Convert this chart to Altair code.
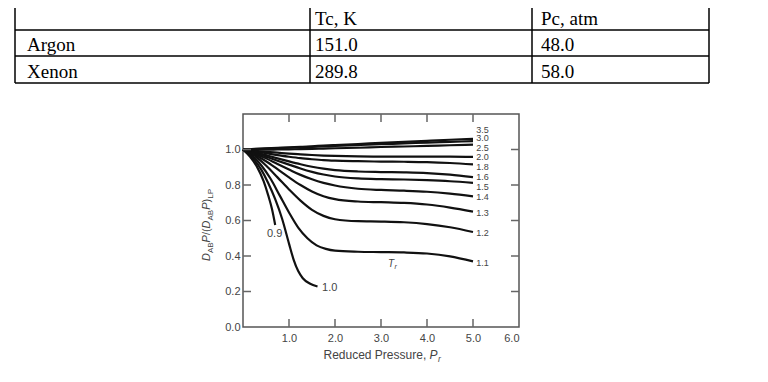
import altair as alt
import pandas as pd

# ---------------- data ----------------
table_header = ["", "Tc, K", "Pc, atm"]
table_gases = ["Argon", "Xenon"]
table_tc = ["151.0", "289.8"]
table_pc = ["48.0", "58.0"]

pr_std = [0, 0.25, 0.5, 0.75, 1.0, 1.25, 1.5, 1.75, 2.0, 2.5, 3.0, 3.5, 4.0, 4.5, 5.0]
curves_std = {
    "3.5": [1.0, 1.003, 1.006, 1.009, 1.012, 1.015, 1.018, 1.022, 1.025, 1.031, 1.037, 1.043, 1.049, 1.055, 1.060],
    "3.0": [1.0, 1.002, 1.005, 1.008, 1.010, 1.012, 1.015, 1.017, 1.020, 1.025, 1.030, 1.034, 1.039, 1.043, 1.047],
    "2.5": [1.0, 0.999, 0.999, 1.0, 1.001, 1.002, 1.003, 1.005, 1.007, 1.010, 1.014, 1.017, 1.020, 1.024, 1.027],
    "2.0": [1.0, 0.993, 0.987, 0.982, 0.977, 0.973, 0.969, 0.966, 0.964, 0.961, 0.960, 0.960, 0.960, 0.960, 0.958],
    "1.8": [1.0, 0.990, 0.979, 0.968, 0.959, 0.951, 0.945, 0.940, 0.937, 0.934, 0.932, 0.931, 0.929, 0.924, 0.916],
    "1.6": [1.0, 0.986, 0.968, 0.950, 0.933, 0.917, 0.903, 0.892, 0.884, 0.876, 0.873, 0.871, 0.867, 0.858, 0.844],
    "1.5": [1.0, 0.983, 0.960, 0.937, 0.915, 0.893, 0.874, 0.859, 0.848, 0.837, 0.833, 0.831, 0.827, 0.821, 0.812],
    "1.4": [1.0, 0.978, 0.950, 0.918, 0.887, 0.857, 0.832, 0.812, 0.797, 0.779, 0.772, 0.768, 0.762, 0.751, 0.736],
    "1.3": [1.0, 0.972, 0.934, 0.889, 0.843, 0.800, 0.764, 0.737, 0.720, 0.707, 0.703, 0.699, 0.690, 0.673, 0.650],
    "1.2": [1.0, 0.965, 0.910, 0.843, 0.775, 0.712, 0.660, 0.626, 0.607, 0.596, 0.594, 0.590, 0.580, 0.562, 0.535],
}
pr_11 = [0, 0.2, 0.4, 0.6, 0.8, 1.0, 1.2, 1.4, 1.6, 1.8, 2.0, 2.5, 3.0, 3.5, 4.0, 4.5, 5.0]
v_11 = [1.0, 0.965, 0.91, 0.835, 0.74, 0.645, 0.56, 0.50, 0.46, 0.44, 0.43, 0.424, 0.422, 0.42, 0.414, 0.398, 0.37]
pr_10 = [0, 0.2, 0.4, 0.55, 0.7, 0.85, 1.0, 1.1, 1.2, 1.3, 1.45, 1.62]
v_10 = [1.0, 0.955, 0.885, 0.81, 0.72, 0.61, 0.47, 0.38, 0.315, 0.275, 0.245, 0.228]
pr_09 = [0, 0.15, 0.3, 0.45, 0.55, 0.63, 0.7]
v_09 = [1.0, 0.96, 0.905, 0.82, 0.74, 0.665, 0.575]

# curve labels (right side) and in-plot labels
right_labels = ["3.5", "3.0", "2.5", "2.0", "1.8", "1.6", "1.5", "1.4", "1.3", "1.2", "1.1"]
right_label_v = [1.112, 1.062, 1.006, 0.955, 0.899, 0.843, 0.787, 0.730, 0.640, 0.528, 0.360]
inner_labels = ["0.9", "1.0"]
inner_label_pr = [0.674, 1.87]
inner_label_v = [0.525, 0.219]

x_ticks = [1, 2, 3, 4, 5]
y_ticks = [0.2, 0.4, 0.6, 0.8, 1.0]
x_label_values = [1, 2, 3, 4, 5, 6]
y_label_values = [0, 0.2, 0.4, 0.6, 0.8, 1.0]

# ---------------- frames ----------------
rows = []
for tr, vals in curves_std.items():
    for p, v in zip(pr_std, vals):
        rows.append({"Tr": tr, "Pr": p, "v": v})
for tr, prs, vals in [("1.1", pr_11, v_11), ("1.0", pr_10, v_10), ("0.9", pr_09, v_09)]:
    for p, v in zip(prs, vals):
        rows.append({"Tr": tr, "Pr": p, "v": v})
curves_df = pd.DataFrame(rows)

W, H = 276, 213
SANS = "Liberation Sans"
GRAY = "#555555"
LBL = "#444444"

xs = alt.Scale(domain=[0, 6], nice=False, zero=False)
ys = alt.Scale(domain=[0, 1.2], nice=False, zero=False)
x_axis = alt.Axis(values=x_label_values, format=".1f", title=None, ticks=False, domain=False,
                  grid=False, labelPadding=5, labelFont=SANS, labelFontSize=11, labelColor=LBL)
y_axis = alt.Axis(values=y_label_values, format=".1f", title=None, ticks=False, domain=False,
                  grid=False, labelPadding=3, labelFont=SANS, labelFontSize=11, labelColor=LBL)


def X(field="Pr"):
    return alt.X(f"{field}:Q", scale=xs, axis=x_axis)


def Y(field="v"):
    return alt.Y(f"{field}:Q", scale=ys, axis=y_axis)


lines = alt.Chart(curves_df).mark_line(interpolate="monotone", color="#111111", strokeWidth=2.2).encode(
    x=X(), y=Y(), detail="Tr:N"
)

xt_df = pd.DataFrame({"Pr": x_ticks})
yt_df = pd.DataFrame({"v": y_ticks})
tick_style = dict(color="#666666", thickness=1.5, size=8, opacity=1)
bottom_ticks = alt.Chart(xt_df).mark_tick(orient="vertical", **tick_style).encode(x=X(), y=alt.value(H - 4))
top_ticks = alt.Chart(xt_df).mark_tick(orient="vertical", **tick_style).encode(x=X(), y=alt.value(4))
left_ticks = alt.Chart(yt_df).mark_tick(orient="horizontal", **tick_style).encode(y=Y(), x=alt.value(4))
right_ticks = alt.Chart(yt_df).mark_tick(orient="horizontal", **tick_style).encode(y=Y(), x=alt.value(W - 4))

rl_df = pd.DataFrame({"label": right_labels, "v": right_label_v, "Pr": [5.07] * len(right_labels)})
right_text = alt.Chart(rl_df).mark_text(align="left", baseline="middle", font=SANS, fontSize=9,
                                        color=LBL).encode(x=X(), y=Y(), text="label:N")
il_df = pd.DataFrame({"label": inner_labels, "Pr": inner_label_pr, "v": inner_label_v})
inner_text = alt.Chart(il_df).mark_text(align="left", baseline="middle", font=SANS, fontSize=11,
                                        color=LBL, dx=-7).encode(x=X(), y=Y(), text="label:N")
tr_df = pd.DataFrame({"Pr": [3.15], "v": [0.337]})
tr_T = alt.Chart(tr_df).mark_text(align="left", baseline="alphabetic", font=SANS, fontSize=10,
                                  fontStyle="italic", color=LBL, text="T").encode(x=X(), y=Y())
tr_r = alt.Chart(tr_df).mark_text(align="left", baseline="alphabetic", font=SANS, fontSize=7,
                                  fontStyle="italic", color=LBL, text="r", dx=6.5, dy=2).encode(x=X(), y=Y())

one = pd.DataFrame({"k": [0]})


def txt(text, x, y, size=12, italic=False, angle=0):
    kw = dict(align="left", baseline="alphabetic", font=SANS, fontSize=size, color=LBL, text=text)
    if italic:
        kw["fontStyle"] = "italic"
    if angle:
        kw["angle"] = angle
    return alt.Chart(one).mark_text(**kw).encode(x=alt.value(x), y=alt.value(y))


# x-axis title: Reduced Pressure, P_r
xt_layers = [
    txt("Reduced Pressure, ", 80.5, 245, 12),
    txt("P", 186.5, 245, 12, italic=True),
    txt("r", 195, 248, 8.5, italic=True),
]
# y-axis title: D_AB P/(D_AB P)_LP  (rotated)
MX, SX, Y0 = -33, -30, 147
yt_pieces = [
    ("D", 0, False, True), ("AB", 7.9, True, False), ("P", 18.6, False, True), ("/(", 25.9, False, False),
    ("D", 32.6, False, True), ("AB", 40.5, True, False), ("P", 51.2, False, True), (")", 58.5, False, False),
    ("LP", 62.2, True, False),
]
yt_layers = []
for t, s, sub, it in yt_pieces:
    yt_layers.append(txt(t, SX if sub else MX, Y0 - s, 8 if sub else 11, italic=it, angle=270))

main = alt.layer(lines, bottom_ticks, top_ticks, left_ticks, right_ticks, right_text, inner_text,
                 tr_T, tr_r, *xt_layers, *yt_layers)

# ---------------- table ----------------
cells = []
for j, h in enumerate(table_header):
    cells.append({"row": 0, "col": j, "text": h})
for i, (g, tc, pc) in enumerate(zip(table_gases, table_tc, table_pc)):
    cells.append({"row": i + 1, "col": 0, "text": g})
    cells.append({"row": i + 1, "col": 1, "text": tc})
    cells.append({"row": i + 1, "col": 2, "text": pc})
cells_df = pd.DataFrame(cells)
table_text = alt.Chart(cells_df).mark_text(align="left", baseline="alphabetic", font="Liberation Serif",
                                           fontSize=19, color="#000000").encode(
    x=alt.X("col:Q", scale=alt.Scale(domain=[0, 1, 2], range=[-216, 72, 298]), axis=None),
    y=alt.Y("row:Q", scale=alt.Scale(domain=[0, 1, 2], range=[-89, -63, -36.5]), axis=None),
    text="text:N",
)

border_layers = []
for yy in [-84, -58, -31]:
    border_layers.append(alt.Chart(one).mark_rule(color="#000000", strokeWidth=1.5).encode(
        x=alt.value(-228), x2=alt.value(466), y=alt.value(yy), y2=alt.value(yy)))
for xx in [-228, 67, 289, 466]:
    border_layers.append(alt.Chart(one).mark_rule(color="#000000", strokeWidth=1.5).encode(
        x=alt.value(xx), x2=alt.value(xx), y=alt.value(-116), y2=alt.value(-31)))

chart = alt.layer(main, table_text, *border_layers).resolve_scale(
    x="independent", y="independent"
).properties(
    width=W, height=H,
    padding={"left": 235, "top": 106, "right": 230, "bottom": 40},
    autosize=alt.AutoSizeParams(type="none"),
).configure_view(stroke=GRAY, strokeWidth=1.5)

chart.save("out.html", embed_options={"renderer": "svg", "actions": False})
